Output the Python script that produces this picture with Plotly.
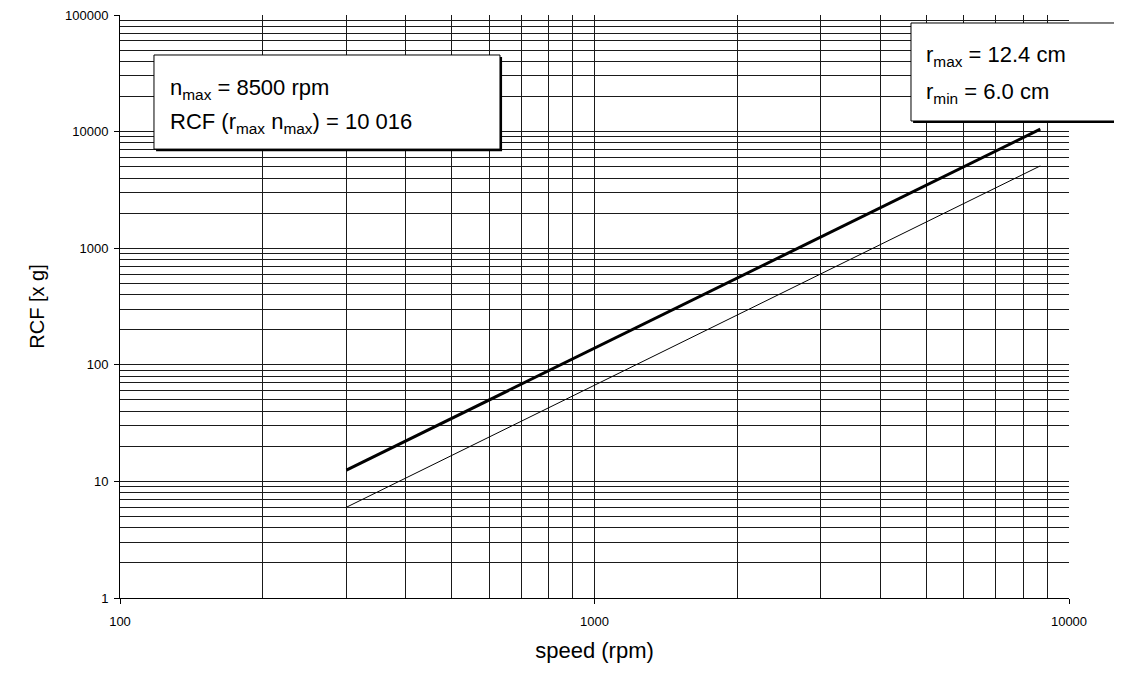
import plotly.graph_objects as go

# --- data ---
speed = [300, 1000, 2000, 4000, 8700]
rcf_rmax = [12.5, 139, 555, 2220, 10500]
rcf_rmin = [6.0, 67, 268, 1075, 5080]

x_major = [100, 1000, 10000]
y_major = [1, 10, 100, 1000, 10000, 100000]

x_minor = [m * d for d in (100, 1000) for m in range(2, 10)]
y_minor = [m * d for d in (1, 10, 100, 1000, 10000) for m in range(2, 10)]

FONT = "Liberation Sans, Arial, sans-serif"
GRID = "#1a1a1a"

fig = go.Figure()
fig.add_trace(go.Scatter(x=speed, y=rcf_rmax, mode="lines",
                         line=dict(color="black", width=3), showlegend=False))
fig.add_trace(go.Scatter(x=speed, y=rcf_rmin, mode="lines",
                         line=dict(color="black", width=1), showlegend=False))

axis_common = dict(
    type="log",
    automargin=False,
    showline=True, linecolor="black", linewidth=1,
    showgrid=True, gridcolor=GRID, gridwidth=1,
    zeroline=False,
    ticks="outside", ticklen=5, tickcolor="black",
    tickfont=dict(family=FONT, size=13, color="black"),
    ticklabeloverflow="allow",
)

fig.update_xaxes(
    **axis_common,
    range=[2, 4],
    tickvals=x_major, ticktext=[str(v) for v in x_major],
    ticklabelstandoff=6,
    minor=dict(tickvals=x_minor, showgrid=True, gridcolor=GRID, gridwidth=1, ticks=""),
    title=dict(text="speed (rpm)", font=dict(family=FONT, size=22, color="black")),
)
fig.update_yaxes(
    **axis_common,
    range=[0, 5],
    tickvals=y_major, ticktext=[str(v) for v in y_major],
    ticklabelstandoff=3,
    minor=dict(tickvals=y_minor, showgrid=True, gridcolor=GRID, gridwidth=1, ticks=""),
    title=dict(text="RCF [x g]", font=dict(family=FONT, size=20, color="black")),
)

# text boxes with drop shadows (paper coordinates)
def box(x0, y0, x1, y1):
    fig.add_shape(type="rect", xref="paper", yref="paper",
                  x0=x0 + 0.0022, y0=y0 - 0.0036, x1=x1 + 0.0022, y1=y1 - 0.0036,
                  fillcolor="black", line=dict(width=0), layer="above")
    fig.add_shape(type="rect", xref="paper", yref="paper",
                  x0=x0, y0=y0, x1=x1, y1=y1,
                  fillcolor="white", line=dict(color="black", width=1), layer="above")

box(0.0358, 0.770, 0.4004, 0.9314)
box(0.8335, 0.8182, 1.0527, 0.9863)

TXT = dict(family=FONT, size=22, color="black")
fig.add_annotation(xref="paper", yref="paper", x=0.0506, y=0.873, xanchor="left", yanchor="middle",
                   text="n<sub>max</sub> = 8500 rpm", showarrow=False, font=TXT)
fig.add_annotation(xref="paper", yref="paper", x=0.0506, y=0.8156, xanchor="left", yanchor="middle",
                   text="RCF (r<sub>max</sub> n<sub>max</sub>) = 10 016", showarrow=False, font=TXT)
fig.add_annotation(xref="paper", yref="paper", x=0.8472, y=0.9297, xanchor="left", yanchor="middle",
                   text="r<sub>max</sub> = 12.4 cm", showarrow=False, font=TXT)
fig.add_annotation(xref="paper", yref="paper", x=0.8472, y=0.867, xanchor="left", yanchor="middle",
                   text="r<sub>min</sub> = 6.0 cm", showarrow=False, font=TXT)

# the page body adds an 8px offset, so the figure is sized to fit the window
fig.update_layout(
    width=1114, height=665,
    margin=dict(l=112, r=53, t=7, b=75),
    plot_bgcolor="white", paper_bgcolor="white",
    font=dict(family=FONT, color="black"),
    showlegend=False,
)

fig.write_html("out.html")
